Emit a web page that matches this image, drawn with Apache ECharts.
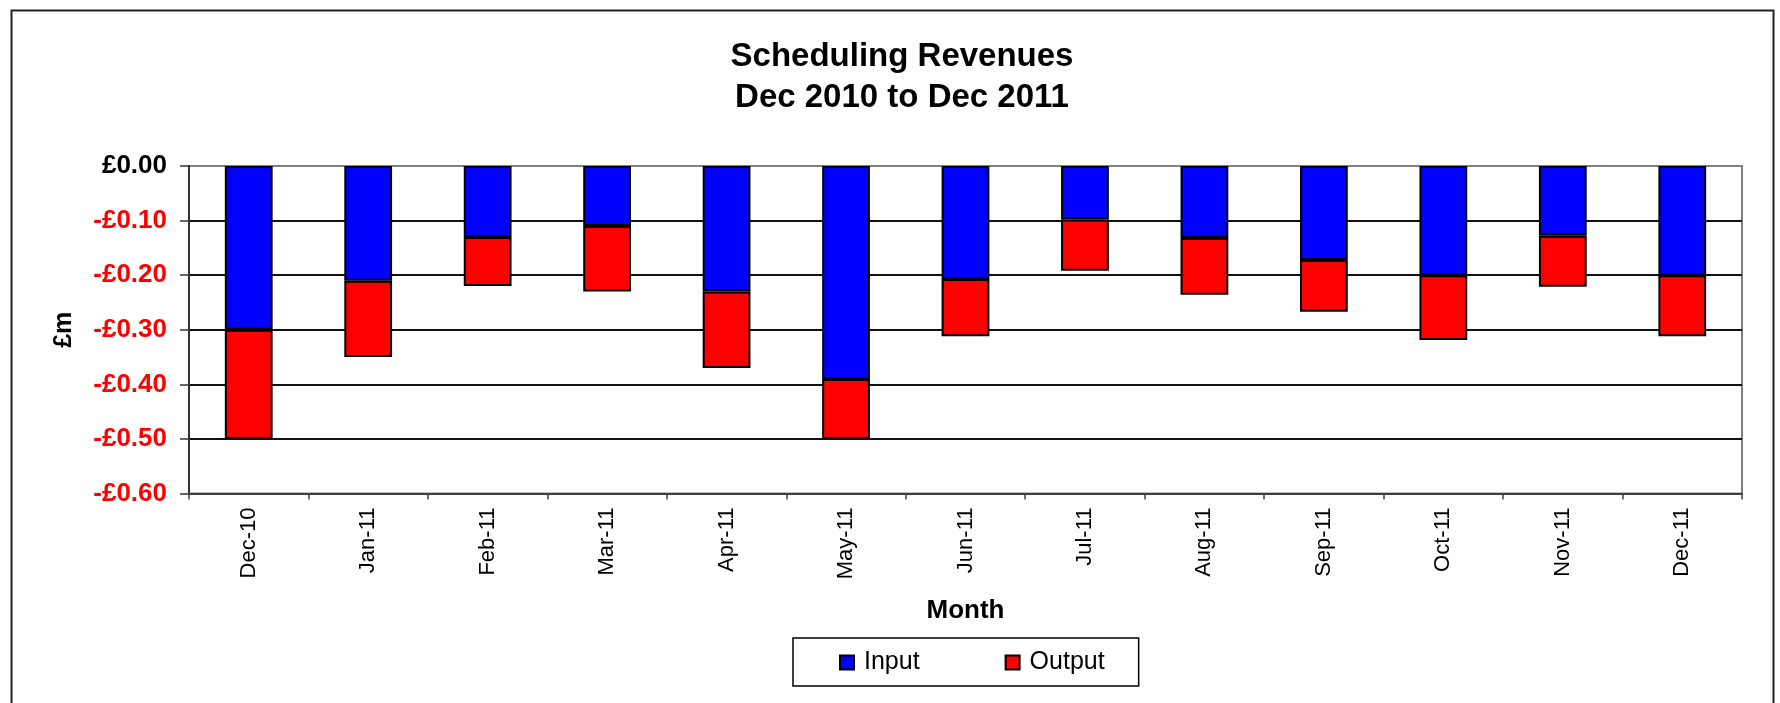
<!DOCTYPE html>
<html>
<head>
<meta charset="utf-8">
<script src="https://cdn.jsdelivr.net/npm/echarts@6/dist/echarts.min.js"></script>
<style>
  html, body { margin: 0; padding: 0; background: #fff; }
  #chart { width: 1780px; height: 703px; }
</style>
</head>
<body>
<div id="chart"></div>
<script>
// Months on the x axis
const months = ["Dec-10", "Jan-11", "Feb-11", "Mar-11", "Apr-11", "May-11", "Jun-11",
  "Jul-11", "Aug-11", "Sep-11", "Oct-11", "Nov-11", "Dec-11"];

// £m (negative revenues)
const inputValues = [-0.30, -0.21, -0.13, -0.11, -0.23, -0.39, -0.207,
  -0.098, -0.132, -0.172, -0.20, -0.128, -0.20];
const outputValues = [-0.20, -0.14, -0.09, -0.12, -0.14, -0.11, -0.105,
  -0.094, -0.104, -0.095, -0.119, -0.093, -0.112];

const FONT = "'Liberation Sans', Arial, sans-serif";

const chart = echarts.init(document.getElementById("chart"));

// format like Excel: £0.00 / -£0.10
const fmtMoney = (v) => {
  if (Math.abs(v) < 1e-9) return "£0.00";
  return (v < 0 ? "-£" : "£") + Math.abs(v).toFixed(2);
};

const option = {
  backgroundColor: "#fff",
  animation: false,
  title: {
    text: "Scheduling Revenues\nDec 2010 to Dec 2011",
    left: 897,
    top: 31,
    textAlign: "center",
    textStyle: {
      fontFamily: FONT,
      fontSize: 33,
      fontWeight: "bold",
      color: "#000",
      lineHeight: 41,
    },
  },
  graphic: [
    {
      // outer chart frame
      type: "rect",
      left: 9,
      top: 8,
      shape: { width: 1762, height: 720 },
      style: { fill: "none", stroke: "#222", lineWidth: 2 },
      silent: true,
      z: -1,
    },
  ],
  legend: {
    left: 793,
    top: 638,
    orient: "horizontal",
    padding: [12, 34, 11, 46],
    itemGap: 85,
    itemWidth: 14,
    itemHeight: 14,
    icon: "rect",
    borderColor: "#000",
    borderWidth: 1.5,
    textStyle: {
      fontFamily: FONT,
      fontSize: 25,
      color: "#000",
      padding: [0, 0, 0, 5],
    },
    data: ["Input", "Output"],
  },
  grid: {
    left: 189,
    right: 38,
    top: 166,
    bottom: 209.5,
    show: true,
    borderColor: "#808080",
    borderWidth: 2,
    backgroundColor: "#fff",
  },
  xAxis: {
    type: "category",
    data: months,
    position: "bottom",
    name: "Month",
    nameLocation: "middle",
    nameGap: 104,
    nameTextStyle: {
      fontFamily: FONT,
      fontSize: 26,
      fontWeight: "bold",
      color: "#000",
    },
    axisLine: { onZero: false, lineStyle: { color: "#404040", width: 2 } },
    axisTick: { show: true, length: 6, lineStyle: { color: "#404040", width: 1.5 } },
    axisLabel: {
      rotate: 90,
      margin: 14,
      interval: 0,
      fontFamily: FONT,
      fontSize: 22,
      color: "#000",
    },
  },
  yAxis: {
    type: "value",
    min: -0.6,
    max: 0,
    interval: 0.1,
    name: "£m",
    nameLocation: "middle",
    nameRotate: 90,
    nameGap: 112,
    nameTextStyle: {
      fontFamily: FONT,
      fontSize: 25,
      fontWeight: "bold",
      color: "#000",
    },
    axisLine: { show: true, lineStyle: { color: "#333", width: 2 } },
    axisTick: { show: true, length: 9, lineStyle: { color: "#333", width: 1.5 } },
    axisLabel: {
      margin: 22,
      fontFamily: FONT,
      fontSize: 26,
      fontWeight: "bold",
      formatter: fmtMoney,
      color: (value) => (Number(value) < -1e-9 ? "#ff0000" : "#000"),
    },
    splitLine: {
      show: true,
      lineStyle: {
        color: ["#808080", "#111", "#111", "#111", "#111", "#111", "#808080"],
        width: 2,
      },
    },
  },
  series: [
    {
      name: "Input",
      type: "bar",
      stack: "total",
      barWidth: "40%",
      data: inputValues,
      itemStyle: { color: "#0000ff", borderColor: "#000", borderWidth: 2 },
    },
    {
      name: "Output",
      type: "bar",
      stack: "total",
      barWidth: "40%",
      data: outputValues,
      itemStyle: { color: "#ff0000", borderColor: "#000", borderWidth: 2 },
    },
  ],
};

chart.setOption(option);
</script>
</body>
</html>
